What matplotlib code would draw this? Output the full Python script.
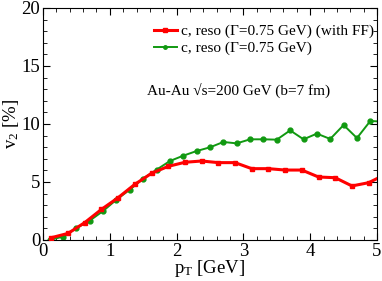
import matplotlib
matplotlib.use("Agg")
import matplotlib.pyplot as plt
from matplotlib.ticker import MultipleLocator
from matplotlib.lines import Line2D

plt.rcParams['font.family'] = ['Liberation Serif', 'DejaVu Serif']
plt.rcParams['mathtext.fontset'] = 'custom'
plt.rcParams['mathtext.rm'] = 'Liberation Serif'
plt.rcParams['mathtext.it'] = 'Liberation Serif'

red_x = [0.125, 0.375, 0.625, 0.875, 1.125, 1.375, 1.625, 1.875, 2.125, 2.375,
         2.625, 2.875, 3.125, 3.375, 3.625, 3.875, 4.125, 4.375, 4.625, 4.875, 5.125]
red_y = [0.2, 0.57, 1.5, 2.64, 3.65, 4.8, 5.75, 6.35, 6.7, 6.81,
         6.67, 6.67, 6.15, 6.15, 6.03, 6.03, 5.43, 5.37, 4.66, 4.94, 5.65]

green_x = [0.1, 0.3, 0.5, 0.7, 0.9, 1.1, 1.3, 1.5, 1.7, 1.9, 2.1, 2.3, 2.5, 2.7, 2.9,
           3.1, 3.3, 3.5, 3.7, 3.9, 4.1, 4.3, 4.5, 4.7, 4.9, 5.1]
green_y = [0.0, 0.29, 1.03, 1.67, 2.5, 3.48, 4.34, 5.29, 6.06, 6.81, 7.27, 7.67, 7.99, 8.45, 8.33,
           8.68, 8.68, 8.65, 9.45, 8.68, 9.17, 8.71, 9.91, 8.79, 10.26, 10.2]

red_label = "c, reso (\u0393=0.75 GeV) (with FF)"
green_label = "c, reso (\u0393=0.75 GeV)"
annot = "Au-Au \u221as=200 GeV (b=7 fm)"

fig = plt.figure(figsize=(3.82, 2.81), dpi=100)
ax = fig.add_axes([43/382, 1-240/281, (377-43)/382, (240-8)/281])

ax.plot(red_x, red_y, color='#ff0000', lw=2.2, marker='s', ms=3.0, zorder=3)
ax.plot(green_x, green_y, color='#119911', lw=1.4, marker='o', ms=3.5, zorder=2)

ax.set_xlim(0, 5)
ax.set_ylim(0, 20)
ax.xaxis.set_major_locator(MultipleLocator(1))
ax.xaxis.set_minor_locator(MultipleLocator(0.2))
ax.yaxis.set_major_locator(MultipleLocator(5))
ax.yaxis.set_minor_locator(MultipleLocator(1))
ax.tick_params(which='both', direction='in', top=True, right=True, labelsize=13.5, pad=2)
ax.tick_params(which='major', length=5)
ax.tick_params(which='minor', length=3)
for s in ax.spines.values():
    s.set_linewidth(0.8)

ax.set_xlabel(r"p$_\mathrm{T}$ [GeV]", fontsize=13.5, labelpad=-1)
ax.set_ylabel(r"v$_2$ [%]", fontsize=13.5, labelpad=0)

handles = [Line2D([], [], color='#ff0000', lw=2.2, marker='s', ms=2.5),
           Line2D([], [], color='#119911', lw=1.4, marker='o', ms=2.5)]
ax.legend(handles, [red_label, green_label], loc='upper right', frameon=False,
          fontsize=11, handlelength=1.5, handletextpad=0.25, labelspacing=0.2,
          borderaxespad=0.0, borderpad=0.0, bbox_to_anchor=(0.99, 0.93))

ax.text(147 / 382, 1 - 90 / 281, annot, transform=fig.transFigure,
        ha='left', va='center', fontsize=11)

fig.savefig("out.png", dpi=100)
